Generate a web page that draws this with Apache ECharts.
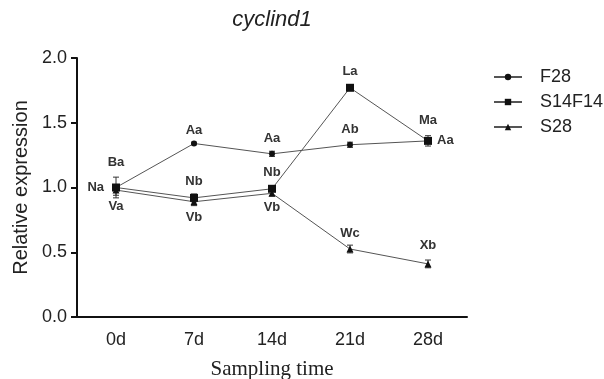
<!DOCTYPE html>
<html>
<head>
<meta charset="utf-8">
<script src="https://cdn.jsdelivr.net/npm/echarts@6/dist/echarts.min.js"></script>
<style>html,body{margin:0;padding:0;background:#fff}#c{width:604px;height:379px}</style>
</head>
<body>
<div id="c"></div>
<script>
const categories = ['0d', '7d', '14d', '21d', '28d'];
const yTicks = [0, 0.5, 1.0, 1.5, 2.0];

const f28 = [1.00, 1.34, 1.26, 1.33, 1.36];
const f28Err = [0.02, 0.01, 0.02, 0.02, 0.02];
const f28Labels = ['Ba', 'Aa', 'Aa', 'Ab', 'Aa'];

const s14f14 = [1.00, 0.92, 0.99, 1.77, 1.36];
const s14f14Err = [0.08, 0.03, 0.02, 0.01, 0.04];
const s14f14Labels = ['Na', 'Nb', 'Nb', 'La', 'Ma'];

const s28 = [0.98, 0.89, 0.955, 0.525, 0.41];
const s28Err = [0.04, 0.03, 0.02, 0.03, 0.03];
const s28Labels = ['Va', 'Vb', 'Vb', 'Wc', 'Xb'];

// label placement (styling only)
const f28Pos = [['top', 16], ['top', 4], ['top', 6], ['top', 6], ['right', 6]];
const s14Pos = [['left', 8], ['top', 6], ['top', 6], ['top', 6], ['top', 10]];
const s28Pos = [['bottom', 6], ['bottom', 6], ['bottom', 4], ['top', 6], ['top', 8]];

const labelStyle = {fontFamily: 'Liberation Sans, Arial', fontWeight: 'bold', fontSize: 13, color: '#333'};

function withLabels(vals, labels, pos) {
  return vals.map((v, i) => ({
    value: v,
    label: Object.assign({show: true, formatter: labels[i], position: pos[i][0], distance: pos[i][1]}, labelStyle)
  }));
}

function errSeries(vals, errs) {
  return {
    type: 'custom',
    silent: true,
    z: 3,
    data: vals.map((v, i) => [i, v - errs[i], v + errs[i]]),
    renderItem: function (params, api) {
      const lo = api.coord([api.value(0), api.value(1)]);
      const hi = api.coord([api.value(0), api.value(2)]);
      const w = 3;
      const st = {stroke: '#333', lineWidth: 1};
      return {type: 'group', children: [
        {type: 'line', shape: {x1: lo[0], y1: lo[1], x2: hi[0], y2: hi[1]}, style: st},
        {type: 'line', shape: {x1: lo[0] - w, y1: lo[1], x2: lo[0] + w, y2: lo[1]}, style: st},
        {type: 'line', shape: {x1: hi[0] - w, y1: hi[1], x2: hi[0] + w, y2: hi[1]}, style: st}
      ]};
    }
  };
}

const lineStyle = {color: '#555', width: 1};
const chart = echarts.init(document.getElementById('c'));
chart.setOption({
  animation: false,
  backgroundColor: '#fff',
  title: {
    text: 'cyclind1', left: 267, top: 4, textAlign: 'center',
    textStyle: {fontFamily: 'Liberation Sans, Arial', fontStyle: 'italic', fontWeight: 'normal', fontSize: 22, color: '#222'}
  },
  legend: {
    orient: 'vertical', left: 488, top: 63, itemGap: 7, itemWidth: 28, itemHeight: 8,
    textStyle: {fontFamily: 'Liberation Sans, Arial', fontSize: 18, color: '#222', padding: [0, 0, 0, 13]},
    data: ['F28', 'S14F14', 'S28']
  },
  grid: {left: 77, right: 137, top: 58, bottom: 62, containLabel: false, outerBoundsMode: 'none'},
  xAxis: {
    type: 'category', data: categories, boundaryGap: true,
    name: 'Sampling time', nameLocation: 'middle', nameGap: 42,
    nameTextStyle: {fontFamily: 'Liberation Serif, Times New Roman', fontSize: 21, color: '#222'},
    axisLine: {lineStyle: {color: '#111', width: 2}},
    axisTick: {alignWithLabel: true, length: 6, lineStyle: {color: '#111', width: 2}},
    axisLabel: {fontFamily: 'Liberation Sans, Arial', fontSize: 18, color: '#222', margin: 14}
  },
  yAxis: {
    type: 'value', min: 0, max: 2, interval: 0.5,
    name: 'Relative expression', nameLocation: 'middle', nameGap: 46,
    nameTextStyle: {fontFamily: 'Liberation Sans, Arial', fontSize: 20, color: '#222'},
    axisLine: {show: true, lineStyle: {color: '#111', width: 2}},
    axisTick: {show: true, length: 6, lineStyle: {color: '#111', width: 2}},
    splitLine: {show: false},
    axisLabel: {fontFamily: 'Liberation Sans, Arial', fontSize: 18, color: '#222', margin: 10,
      formatter: v => yTicks.indexOf(v) >= 0 ? v.toFixed(1) : ''}
  },
  series: [
    {name: 'F28', type: 'line', data: withLabels(f28, f28Labels, f28Pos), symbol: 'circle', symbolSize: 6,
      itemStyle: {color: '#111'}, lineStyle: lineStyle, z: 4},
    {name: 'S14F14', type: 'line', data: withLabels(s14f14, s14f14Labels, s14Pos), symbol: 'rect', symbolSize: 8,
      itemStyle: {color: '#111'}, lineStyle: lineStyle, z: 4},
    {name: 'S28', type: 'line', data: withLabels(s28, s28Labels, s28Pos), symbol: 'triangle', symbolSize: 7,
      itemStyle: {color: '#111'}, lineStyle: lineStyle, z: 4},
    errSeries(f28, f28Err),
    errSeries(s14f14, s14f14Err),
    errSeries(s28, s28Err)
  ]
});
</script>
</body>
</html>
